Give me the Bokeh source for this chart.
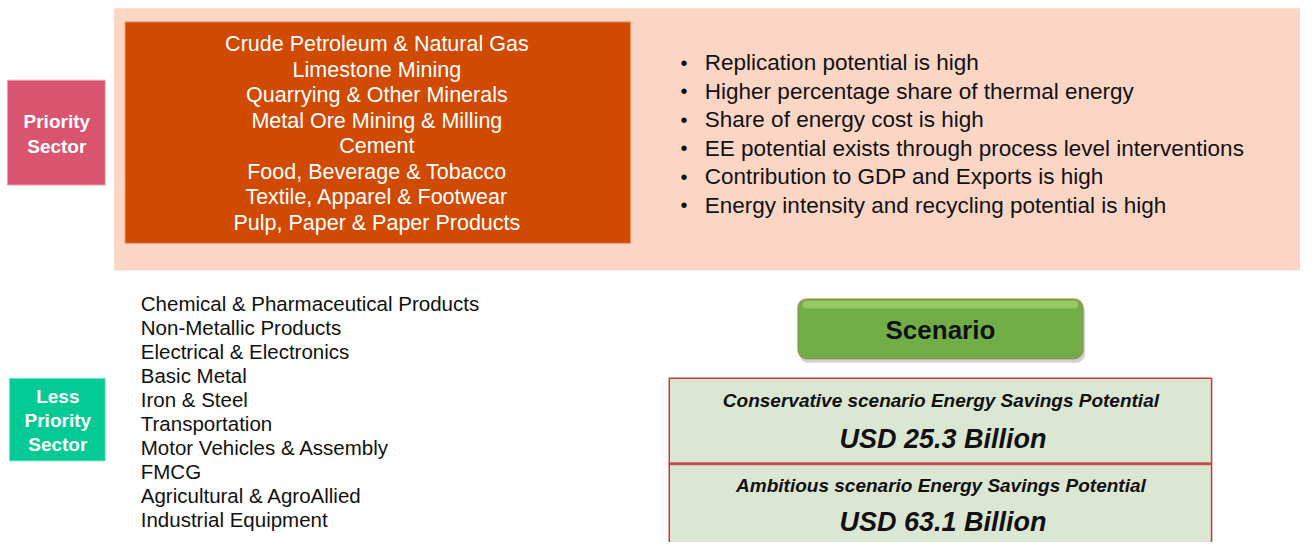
from bokeh.plotting import figure
from bokeh.models import Range1d, BoxAnnotation
from bokeh.core.properties import value
from bokeh.embed import file_html
from bokeh.resources import INLINE

# ---- content ----
priority_label = ["Priority", "Sector"]
less_label = ["Less", "Priority", "Sector"]
priority_sectors = [
    "Crude Petroleum & Natural Gas",
    "Limestone Mining",
    "Quarrying & Other Minerals",
    "Metal Ore Mining & Milling",
    "Cement",
    "Food, Beverage & Tobacco",
    "Textile, Apparel & Footwear",
    "Pulp, Paper & Paper Products",
]
criteria = [
    "Replication potential is high",
    "Higher percentage share of thermal energy",
    "Share of energy cost is high",
    "EE potential exists through process level interventions",
    "Contribution to GDP and Exports is high",
    "Energy intensity and recycling potential is high",
]
less_sectors = [
    "Chemical & Pharmaceutical Products",
    "Non-Metallic Products",
    "Electrical & Electronics",
    "Basic Metal",
    "Iron & Steel",
    "Transportation",
    "Motor Vehicles & Assembly",
    "FMCG",
    "Agricultural & AgroAllied",
    "Industrial Equipment",
]
scenario_title = "Scenario"
scenario_names = ["Conservative scenario Energy Savings Potential",
                  "Ambitious scenario Energy Savings Potential"]
scenario_values = [25.3, 63.1]

FONT = value("Liberation Sans")

p = figure(width=1300, height=542, output_backend="svg", toolbar_location=None,
           x_range=Range1d(0, 1316), y_range=Range1d(558, 0),
           min_border=0, outline_line_color=None)
p.axis.visible = False
p.grid.visible = False
p.background_fill_color = "white"
p.border_fill_color = "white"

# peach panel
p.quad(left=[115], right=[1316], top=[8], bottom=[278], fill_color="#FCD6C5", line_color=None)
# orange box
p.quad(left=[126], right=[638], top=[22], bottom=[250], fill_color="#D04A02", line_color="#F0A27E", line_width=1)
# priority label box
p.quad(left=[7], right=[106], top=[82], bottom=[190], fill_color="#D9546E", line_color="#EFA3B2", line_width=1)
# less priority box
p.quad(left=[9], right=[106], top=[389], bottom=[474], fill_color="#03C995", line_color="#7FE3C8", line_width=1)

# priority label text
p.text(x=[57] * len(priority_label), y=[125 + 25 * i for i in range(len(priority_label))],
       text=priority_label, text_font=FONT, text_font_style="bold", text_font_size="19px",
       text_color="white", text_align="center", text_baseline="middle")
p.text(x=[58] * len(less_label), y=[408 + 24.5 * i for i in range(len(less_label))],
       text=less_label, text_font=FONT, text_font_style="bold", text_font_size="19px",
       text_color="white", text_align="center", text_baseline="middle")

# priority sectors
p.text(x=[381] * len(priority_sectors), y=[45 + 26.3 * i for i in range(len(priority_sectors))],
       text=priority_sectors, text_font=FONT, text_font_size="21.5px",
       text_color="white", text_align="center", text_baseline="middle")

# criteria bullets
p.text(x=[692] * len(criteria), y=[64 + 29.4 * i for i in range(len(criteria))],
       text=["\u2022"] * len(criteria), text_font=FONT, text_font_size="20px",
       text_color="#111111", text_align="center", text_baseline="middle")
p.text(x=[713] * len(criteria), y=[64 + 29.4 * i for i in range(len(criteria))],
       text=criteria, text_font=FONT, text_font_size="22.5px",
       text_color="#111111", text_align="left", text_baseline="middle")

# less priority sectors
p.text(x=[142] * len(less_sectors), y=[312 + 24.7 * i for i in range(len(less_sectors))],
       text=less_sectors, text_font=FONT, text_font_size="20.5px",
       text_color="#111111", text_align="left", text_baseline="middle")

# scenario button (shadow + body + highlight), drawn beneath the glyphs
p.add_layout(BoxAnnotation(left=809, right=1098, top=311, bottom=373, border_radius=9,
                           fill_color="#000000", fill_alpha=0.18, line_color=None, level="underlay"))
p.add_layout(BoxAnnotation(left=807, right=1096, top=307, bottom=369, border_radius=9,
                           fill_color="#72AE48", fill_alpha=1.0, line_color="#D93A3A", line_width=1.5,
                           level="underlay"))
p.add_layout(BoxAnnotation(left=812, right=1091, top=309, bottom=317, border_radius=6,
                           fill_color="#9CCF6C", fill_alpha=0.8, line_color=None, level="underlay"))
p.text(x=[951.5], y=[339], text=[scenario_title], text_font=FONT, text_font_style="bold",
       text_font_size="26px", text_color="#111111", text_align="center", text_baseline="middle")

# scenario boxes
tops = [389, 477]
bottoms = [477, 575]
p.quad(left=[677, 677], right=[1226, 1226], top=tops, bottom=bottoms,
       fill_color="#DCE7D3", line_color="#C8383A", line_width=1.5)
p.segment(x0=[677], y0=[477], x1=[1226], y1=[477], line_color="#C0504D", line_width=3)
p.text(x=[952, 952], y=[412, 499], text=scenario_names, text_font=FONT,
       text_font_style="bold italic", text_font_size="19px", text_color="#111111",
       text_align="center", text_baseline="middle")
p.text(x=[954, 954], y=[451, 537], text=[f"USD {v} Billion" for v in scenario_values],
       text_font=FONT, text_font_style="bold italic", text_font_size="27px",
       text_color="#111111", text_align="center", text_baseline="middle")

open("out.html", "w").write(file_html(p, INLINE))
